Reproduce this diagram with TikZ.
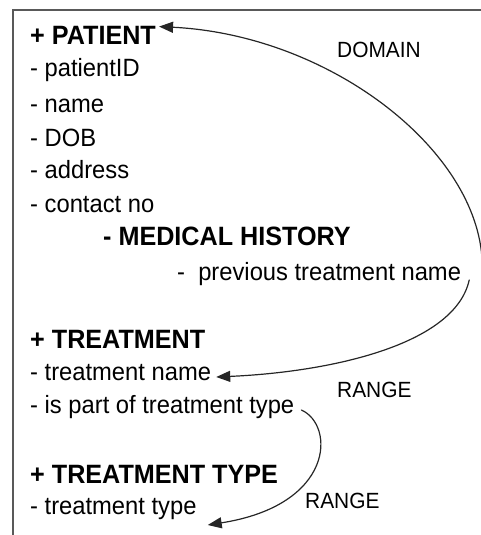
\documentclass[tikz,border=0pt]{standalone}
\usepackage{fontspec}
\setmainfont[FakeStretch=0.95]{Liberation Sans}
\usetikzlibrary{arrows.meta,calc}

\tikzset{
  item/.style={anchor=base west, inner sep=0pt, font=\fontsize{25}{30}\selectfont},
  head/.style={item, font=\fontsize{26.5}{30}\selectfont\bfseries},
  rel/.style={anchor=base west, inner sep=0pt, font=\fontsize{22}{26}\selectfont},
  link/.style={-{Triangle[length=14pt,width=11pt]}, line width=1.2pt, draw=black!85},
  frame/.style={line width=2pt, draw=black!65, line join=miter},
}

\begin{document}
\begin{tikzpicture}[x=1pt, y=-1pt, line cap=round]
  \useasboundingbox (0,0) rectangle (481,535);
  \draw[frame] (481,10.5) -- (12.5,10.5) -- (12.5,535);

  % patient class
  \node[head] (patient) at (30,45) {+ PATIENT};
  \node[item] (pid) at (30,77) {- patientID};
  \node[item] (pname) at (30,112) {- name};
  \node[item] (dob) at (30,146) {- DOB};
  \node[item] (addr) at (30,178) {- address};
  \node[item] (contact) at (30,212) {- contact no};
  \node[head] (history) at (103,245) {- MEDICAL HISTORY};
  \node[item] (prevname) at (177,280) {-\ \ previous treatment name};

  % treatment classes
  \node[head] (treatment) at (30,348) {+ TREATMENT};
  \node[item] (tname) at (30,380) {- treatment name};
  \node[item] (ispart) at (30,413) {- is part of treatment type};
  \node[head] (ttype) at (30,483) {+ TREATMENT TYPE};
  \node[item] (tvalue) at (30,514) {- treatment type};

  \node[rel] (domain) at (337,58) {DOMAIN};
  \node[rel] (range1) at (337,397) {RANGE};
  \node[rel] (range2) at (305,508) {RANGE};

  \draw[link] ($(prevname.base east)+(21,-18)$)
    .. controls (478,150) and (330,35) .. ($(patient.north east)+(3,0)$);
  \draw[link] ($(prevname.base east)+(8,0)$)
    .. controls (455,345) and (330,372) .. ($(tname.base east)+(5,-3)$);
  \draw[link] ($(ispart.base east)+(7,-3)$)
    .. controls (335,425) and (335,505) .. ($(tvalue.base east)+(11,11)$);
\end{tikzpicture}
\end{document}
